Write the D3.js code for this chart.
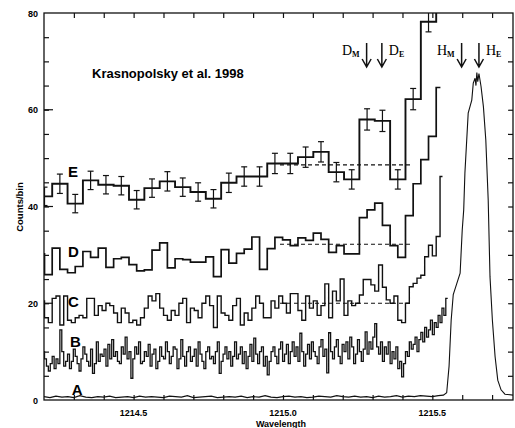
<!DOCTYPE html>
<html>
<head>
<meta charset="utf-8">
<script src="https://cdnjs.cloudflare.com/ajax/libs/d3/7.8.5/d3.min.js"></script>
<style>
  body { margin: 0; background: #fff; }
  svg { display: block; }
</style>
</head>
<body>
<div id="chart"></div>
<script>
// axis ranges and ticks
const xDomain = [1214.2, 1215.77];
const yDomain = [0, 80];
const xTickLabels = [1214.5, 1215.0, 1215.5];
const yTickLabels = [0, 20, 40, 60, 80];

// spectrum E: 4x binned, with error bars
const eStart = 1214.176, eStep = 0.05142;
const eCounts = [42.1, 44.7, 40.6, 45.4, 44.5, 44.3, 41.4, 43.8, 45.2, 44.0, 43.0, 41.6, 44.9, 46.2,
  46.2, 48.9, 48.9, 50.2, 51.3, 47.1, 45.6, 58.0, 57.7, 45.6, 62.2, 78.2, 95];
const eErrors = [1.9, 2.0, 1.9, 1.9, 1.9, 1.9, 1.9, 1.9, 2.0, 1.9, 1.9, 1.9, 2.0, 2.0,
  2.0, 2.1, 2.1, 2.1, 2.1, 2.0, 2.0, 2.2, 2.2, 2.0, 2.2, 2.1, 0];

// spectrum D: 2x binned
const dStart = 1214.176, dStep = 0.02571, dEnd = 1215.527;
const dCounts = [30.2, 25.9, 31.4, 27.0, 26.3, 27.6, 30.7, 29.5, 31.4, 27.4, 29.2, 29.5, 28.0, 26.7,
  26.9, 31.0, 32.5, 27.3, 29.2, 29.0, 28.5, 28.5, 29.6, 25.5, 31.1, 28.3, 30.3, 31.2, 33.7, 27.0,
  31.3, 33.6, 33.1, 31.9, 33.5, 33.0, 34.5, 33.2, 30.5, 31.9, 30.2, 30.2, 37.7, 39.3, 40.7, 36.1,
  31.9, 29.5, 38.1, 44.7, 49.7, 54.5, 64.6];

// spectrum C: full resolution bins of D halved
const cStart = 1214.176, cStep = 0.012855, cEnd = 1215.534;
const cCounts = [20.5, 20.5, 17, 16, 21, 21.5, 15.5, 21.5, 16.5, 16,
  17, 17.5, 17, 21, 21, 17.5, 19.5, 18.5, 20, 19.5,
  18, 16, 19, 18, 16, 16.5, 15.5, 17, 19, 21.5,
  20.5, 22, 19, 17.5, 16.5, 18.5, 17.5, 20, 21, 16,
  19, 18.5, 17, 20, 21.5, 19.5, 15, 21.5, 18, 17.5,
  16.5, 19.5, 21, 15.5, 18, 16.5, 19, 21.5, 20, 17,
  17, 20.5, 19, 21.5, 20, 18, 22, 22, 18.5, 16.5,
  21.5, 19, 20.5, 17.5, 19.5, 24, 17, 22.5, 20.5, 25,
  17.5, 20.5, 19.5, 20, 21.7, 24.9, 24.9, 23.8, 22.5, 27.9,
  23.3, 20.7, 20.0, 21.5, 16.5, 16.0, 20.0, 23.4, 24.1, 25.2,
  25.8, 29.6, 32.0, 29.8, 33.8, 46.2];

// spectrum B: finest bins
const bStart = 1214.176, bStep = 0.0064275;
const bCounts = [10, 9.5, 11, 10, 8.5, 7, 6, 7.5, 9, 6.5,
  8.5, 7.5, 14.5, 10, 7, 8, 9.5, 6.5, 8, 10.5,
  9, 7.5, 6, 8.5, 11, 9.5, 8, 7, 10.5, 5.5,
  7.5, 12, 8, 9.5, 9, 10.5, 7, 11.5, 8.5, 12.5,
  9, 10, 8, 7.5, 11, 9.5, 13, 8.5, 10, 4.5,
  8.5, 11, 9.5, 12, 7.5, 8, 10, 9, 11.5, 7,
  9.5, 10.5, 6.5, 8, 11, 9, 8.5, 12, 10, 7.5,
  9, 11, 10.5, 6.5, 8.5, 12.5, 9, 7, 10, 11,
  8, 9, 10.5, 7, 12, 9.5, 8, 6.5, 10, 11,
  8.5, 9, 7.5, 10, 12, 5.5, 8, 9.5, 11, 8.5,
  10, 7, 9, 12, 8.5, 9.5, 11, 7.5, 10, 6.5,
  9, 11.5, 8, 12.8, 9.5, 7.5, 10, 11, 7, 9,
  5.2, 8, 10, 11, 9, 7.5, 10.5, 12, 8, 9.5,
  11.5, 7.5, 10, 12, 9, 11, 8, 13.8, 10, 7,
  9.5, 11.5, 8.5, 12, 10, 9, 7.5, 11, 12.5, 9,
  10.5, 5.6, 13.9, 10, 8.5, 11, 12.5, 9, 7.5, 11.5,
  10, 12, 8.5, 13, 11, 7.5, 9.5, 12.5, 10, 8,
  10.5, 14.1, 9.5, 12, 10.5, 13, 15.8, 11, 9.5, 12,
  8, 11, 9.5, 12, 7.5, 10, 8.5, 11, 6.5, 8,
  4.8, 7.5, 10, 9, 12, 10.5, 11.5, 13, 10, 12.5,
  14, 12, 15, 13, 14.5, 16.5, 13.5, 16, 15, 17.5,
  16, 19, 17.5, 21];

// spectrum A: quiet baseline, then the Lyman alpha peak
const aBaseStart = 1214.2, aBaseStep = 0.02;
const aBase = [0.7, 0.5, 0.8, 0.6, 0.7, 0.5, 0.9, 0.6, 0.5, 0.7, 0.6, 0.8, 0.5, 0.6, 0.7, 0.5, 0.8,
  0.6, 0.7, 0.6, 0.5, 0.8, 0.7, 0.6, 0.9, 0.5, 0.6, 0.7, 0.8, 0.5, 0.6, 0.7, 0.6, 0.8, 0.5, 0.7,
  0.6, 0.9, 0.6, 0.5, 0.7, 0.8, 0.6, 0.7, 0.5, 0.6, 0.8, 0.7, 0.6, 0.9, 0.7, 0.6, 0.8, 0.6, 0.7,
  0.5, 0.8, 0.6, 0.7, 0.9, 0.6, 0.8, 0.7, 0.9, 0.8, 0.7, 0.9];
const aPeakWave = [1215.537, 1215.548, 1215.556, 1215.563, 1215.570, 1215.582, 1215.593, 1215.600,
  1215.605, 1215.609, 1215.620, 1215.632, 1215.637, 1215.643, 1215.646, 1215.649, 1215.652,
  1215.656, 1215.663, 1215.671, 1215.679, 1215.687, 1215.693, 1215.701, 1215.710, 1215.719,
  1215.730, 1215.743, 1215.770];
const aPeakCounts = [1.0, 1.5, 7.0, 16.5, 21.8, 24.1, 26.2, 35.1, 39.3, 46.9, 59.3, 62.0, 65.5,
  66.5, 65.0, 67.7, 65.8, 67.5, 64.8, 60.6, 53.7, 41.3, 25.5, 16.5, 9.0, 4.1, 2.1, 1.2, 1.0];

// continuum levels (dashed)
const fitNames = ["E", "D", "C"];
const fitLevels = [48.6, 32.2, 20.0];
const fitFrom = 1214.99, fitTo = 1215.43;

// curve letters
const curveNames = ["E", "D", "C", "B", "A"];
const curveNameCounts = [46.1, 29.6, 19.2, 11.0, 1.0];
const curveNameWave = [1214.280, 1214.280, 1214.280, 1214.287, 1214.293];

// D and H line markers
const markNames = ["D", "D", "H", "H"];
const markSubs = ["M", "E", "M", "E"];
const markWave = [1215.280, 1215.331, 1215.598, 1215.656];

const width = 515, height = 428;
const plotLeft = 44, plotRight = 513, plotTop = 13, plotBottom = 400;

const svg = d3.select("#chart").append("svg")
  .attr("width", width)
  .attr("height", height);

const x = d3.scaleLinear().domain(xDomain).range([plotLeft, plotRight]);
const y = d3.scaleLinear().domain(yDomain).range([plotBottom, plotTop]);

svg.append("clipPath").attr("id", "plot-clip")
  .append("rect")
  .attr("x", plotLeft).attr("y", plotTop)
  .attr("width", plotRight - plotLeft).attr("height", plotBottom - plotTop);

const plot = svg.append("g").attr("clip-path", "url(#plot-clip)");

// binned counts -> step points
function stepPoints(start, step, counts, end) {
  const pts = counts.map((v, i) => [start + i * step, v]);
  const last = end !== undefined ? end : start + counts.length * step;
  pts.push([last, counts[counts.length - 1]]);
  return pts;
}

const stepLine = d3.line()
  .x(d => x(d[0]))
  .y(d => y(d[1]))
  .curve(d3.curveStepAfter);

const plainLine = d3.line()
  .x(d => x(d[0]))
  .y(d => y(d[1]));

plot.append("path")
  .attr("d", stepLine(stepPoints(bStart, bStep, bCounts)))
  .attr("fill", "none").attr("stroke", "#111").attr("stroke-width", 1.3);

plot.append("path")
  .attr("d", stepLine(stepPoints(cStart, cStep, cCounts, cEnd)))
  .attr("fill", "none").attr("stroke", "#111").attr("stroke-width", 1.4);

plot.append("path")
  .attr("d", stepLine(stepPoints(dStart, dStep, dCounts, dEnd)))
  .attr("fill", "none").attr("stroke", "#111").attr("stroke-width", 1.7);

plot.append("path")
  .attr("d", stepLine(stepPoints(eStart, eStep, eCounts)))
  .attr("fill", "none").attr("stroke", "#111").attr("stroke-width", 1.9);

// error bars on E
const errG = plot.append("g").attr("stroke", "#111").attr("stroke-width", 1.2);
eCounts.forEach((v, i) => {
  if (!eErrors[i]) return;
  const cx = x(eStart + (i + 0.5) * eStep);
  const y0 = y(v - eErrors[i]), y1 = y(v + eErrors[i]);
  errG.append("line").attr("x1", cx).attr("x2", cx).attr("y1", y0).attr("y2", y1);
  errG.append("line").attr("x1", cx - 3).attr("x2", cx + 3).attr("y1", y0).attr("y2", y0);
  errG.append("line").attr("x1", cx - 3).attr("x2", cx + 3).attr("y1", y1).attr("y2", y1);
});

// A: baseline + peak
const aPoints = aBase.map((v, i) => [aBaseStart + i * aBaseStep, v])
  .concat(aPeakWave.map((w, i) => [w, aPeakCounts[i]]));
plot.append("path")
  .attr("d", plainLine(aPoints))
  .attr("fill", "none").attr("stroke", "#111").attr("stroke-width", 1.1);

// dashed continuum
fitLevels.forEach(lv => {
  plot.append("line")
    .attr("x1", x(fitFrom)).attr("x2", x(fitTo))
    .attr("y1", y(lv)).attr("y2", y(lv))
    .attr("stroke", "#111").attr("stroke-width", 1.2)
    .attr("stroke-dasharray", "4,3");
});

// frame
svg.append("rect")
  .attr("x", plotLeft).attr("y", plotTop)
  .attr("width", plotRight - plotLeft).attr("height", plotBottom - plotTop)
  .attr("fill", "none").attr("stroke", "#111").attr("stroke-width", 1.3);

// ticks: 0.1 nm on top and bottom, 5 counts left and right
const xMinor = d3.range(1214.3, 1215.77, 0.1);
const yMinor = d3.range(5, 80, 5);

const xAxisB = d3.axisBottom(x).tickValues(xMinor).tickSize(-5).tickFormat("");
const xAxisT = d3.axisTop(x).tickValues(xMinor).tickSize(-5).tickFormat("");
const yAxisL = d3.axisLeft(y).tickValues(yMinor).tickSize(-5).tickFormat("");
const yAxisR = d3.axisRight(y).tickValues(yMinor).tickSize(-5).tickFormat("");

[[xAxisB, `translate(0,${plotBottom})`], [xAxisT, `translate(0,${plotTop})`],
 [yAxisL, `translate(${plotLeft},0)`], [yAxisR, `translate(${plotRight},0)`]].forEach(([ax, tr]) => {
  const g = svg.append("g").attr("transform", tr).call(ax);
  g.select(".domain").remove();
  g.selectAll(".tick line").attr("stroke", "#111").attr("stroke-width", 1.2);
});

// longer left ticks at labelled counts
svg.append("g").selectAll("line")
  .data(yTickLabels.filter(v => v > 0 && v < 80))
  .enter().append("line")
  .attr("x1", plotLeft).attr("x2", plotLeft + 9)
  .attr("y1", d => y(d)).attr("y2", d => y(d))
  .attr("stroke", "#111").attr("stroke-width", 1.2);

// tick labels
svg.append("g").selectAll("text")
  .data(xTickLabels)
  .enter().append("text")
  .attr("x", d => x(d))
  .attr("y", 416)
  .attr("text-anchor", "middle")
  .attr("font-family", "Liberation Sans, Arial, sans-serif")
  .attr("font-weight", "bold")
  .attr("font-size", 9)
  .text(d => d3.format(".1f")(d));

svg.append("g").selectAll("text")
  .data(yTickLabels)
  .enter().append("text")
  .attr("x", 38)
  .attr("y", d => y(d) + 3.5)
  .attr("text-anchor", "end")
  .attr("font-family", "Liberation Sans, Arial, sans-serif")
  .attr("font-weight", "bold")
  .attr("font-size", 9)
  .text(d => d);

// axis titles
svg.append("text")
  .attr("x", 281).attr("y", 427)
  .attr("text-anchor", "middle")
  .attr("font-family", "Liberation Sans, Arial, sans-serif")
  .attr("font-weight", "bold")
  .attr("font-size", 9)
  .text("Wavelength");

svg.append("text")
  .attr("transform", "translate(23,207) rotate(-90)")
  .attr("text-anchor", "middle")
  .attr("font-family", "Liberation Sans, Arial, sans-serif")
  .attr("font-weight", "bold")
  .attr("font-size", 9.5)
  .text("Counts/bin");

svg.append("text")
  .attr("x", 92).attr("y", 78)
  .attr("font-family", "Liberation Sans, Arial, sans-serif")
  .attr("font-weight", "bold")
  .attr("font-size", 13)
  .text("Krasnopolsky et al. 1998");

// curve letters
svg.append("g").selectAll("text")
  .data(curveNames)
  .enter().append("text")
  .attr("x", (d, i) => x(curveNameWave[i]))
  .attr("y", (d, i) => y(curveNameCounts[i]))
  .attr("font-family", "Liberation Sans, Arial, sans-serif")
  .attr("font-weight", "bold")
  .attr("font-size", 15)
  .text(d => d);

// line markers: arrows with D_M, D_E, H_M, H_E
const marks = svg.append("g");
markWave.forEach((w, i) => {
  const mx = x(w);
  marks.append("path")
    .attr("d", `M${mx},43 V67 M${mx - 4.5},59 L${mx},67 L${mx + 4.5},59`)
    .attr("fill", "none").attr("stroke", "#111").attr("stroke-width", 1.5);
  const onLeft = i % 2 === 0;
  const t = marks.append("text")
    .attr("x", onLeft ? mx - 7 : mx + 7)
    .attr("y", 55)
    .attr("text-anchor", onLeft ? "end" : "start")
    .attr("font-family", "Liberation Serif, Times New Roman, serif")
    .attr("font-size", 14);
  t.append("tspan").text(markNames[i]);
  t.append("tspan").attr("font-size", 8).attr("dy", 2).attr("font-weight", "bold").text(markSubs[i]);
});
</script>
</body>
</html>
